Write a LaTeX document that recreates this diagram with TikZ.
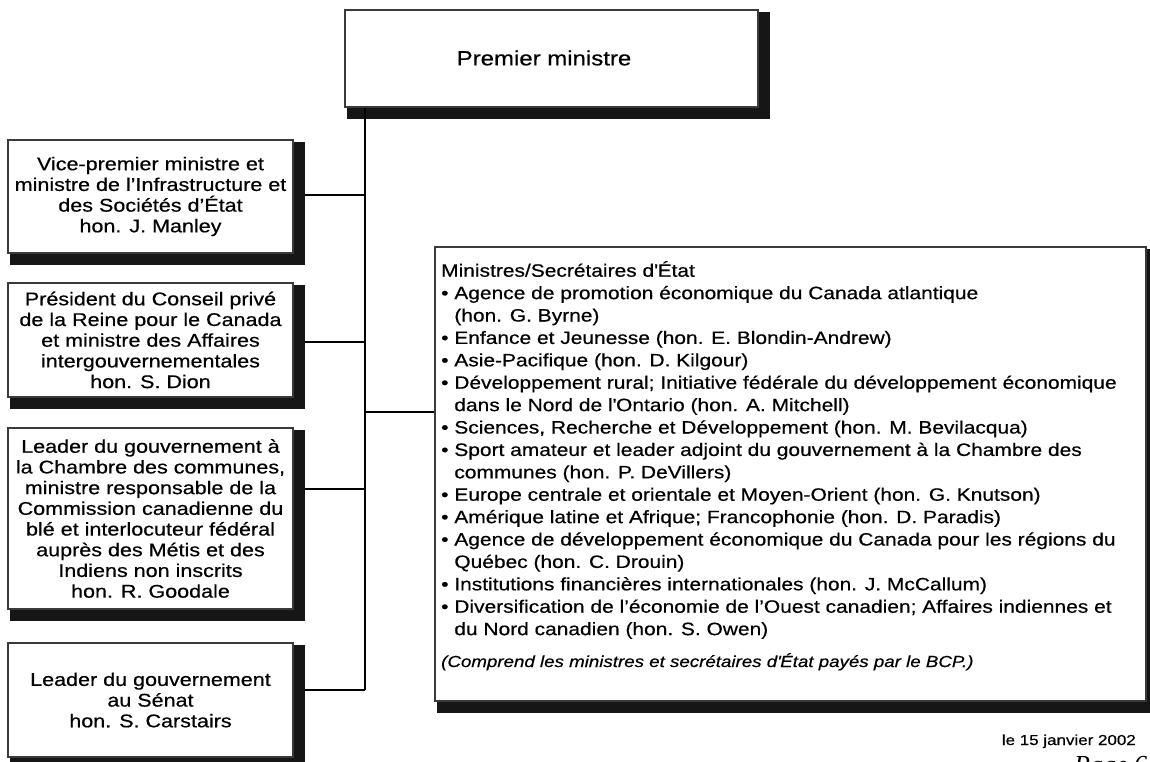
\documentclass[tikz,border=0pt]{standalone}
\usepackage{fontspec}
\setmainfont{Liberation Sans}[FakeStretch=1.17, FakeBold=0.5]
\newfontfamily\pagefont{Liberation Serif}
\usetikzlibrary{calc}
\definecolor{boxc}{HTML}{3A3A3A}
\definecolor{shadowc}{HTML}{161616}
\pgfdeclarelayer{bg}
\pgfsetlayers{bg,main}
\tikzset{
  box/.style={draw=boxc, line width=1.2pt, fill=white, inner sep=0pt, align=center},
  leftbox/.style={box, minimum width=285pt, font=\fontsize{18.4}{20.7}\selectfont},
  conn/.style={line width=2pt, draw=black},
  listtext/.style={inner sep=0pt, align=left, font=\fontsize{17.9}{22.4}\selectfont},
}
\newcommand{\ind}{\hphantom{\textbullet\ }}
\begin{document}
\begin{tikzpicture}[x=1pt,y=-1pt]
\useasboundingbox (0,0) rectangle (1150,761);
% boxes
\node[box, minimum width=413pt, minimum height=97pt] (pm) at (551.5,58.5) {};
\node[inner sep=0pt, font=\fontsize{20.5}{24}\selectfont] (pmt) at (544,58) {Premier ministre};
\node[leftbox, minimum height=113pt] (vp) at (150.5,196.5) {Vice-premier ministre et\\ministre de l’Infrastructure et\\des Sociétés d’État\\hon. J. Manley};
\node[leftbox, minimum height=114pt] (pc) at (150.5,340) {Président du Conseil privé\\de la Reine pour le Canada\\et ministre des Affaires\\intergouvernementales\\hon. S. Dion};
\node[leftbox, minimum height=181pt] (lc) at (150.5,518.5) {Leader du gouvernement à\\la Chambre des communes,\\ministre responsable de la\\Commission canadienne du\\blé et interlocuteur fédéral\\auprès des Métis et des\\Indiens non inscrits\\hon. R. Goodale};
\node[leftbox, minimum height=114pt] (ls) at (150.5,700) {Leader du gouvernement\\au Sénat\\hon. S. Carstairs};
\node[box, minimum width=711pt, minimum height=454pt] (mn) at (790.5,474) {};
% shadows
\begin{pgfonlayer}{bg}
\foreach \n in {pm,vp,pc,lc,ls,mn}
  \fill[shadowc] ($(\n.north west)+(3,3)$) rectangle ($(\n.south east)+(11,11)$);
\end{pgfonlayer}
% list text
\node[listtext, anchor=north west] (mtext) at (441,261) {Ministres/Secrétaires d\textquotesingle État\\
\textbullet\ Agence de promotion économique du Canada atlantique\\
\ind(hon. G. Byrne)\\
\textbullet\ Enfance et Jeunesse (hon. E. Blondin-Andrew)\\
\textbullet\ Asie-Pacifique (hon. D. Kilgour)\\
\textbullet\ Développement rural; Initiative fédérale du développement économique\\
\ind dans le Nord de l\textquotesingle Ontario (hon. A. Mitchell)\\
\textbullet\ Sciences, Recherche et Développement (hon. M. Bevilacqua)\\
\textbullet\ Sport amateur et leader adjoint du gouvernement à la Chambre des\\
\ind communes (hon. P. DeVillers)\\
\textbullet\ Europe centrale et orientale et Moyen-Orient (hon. G. Knutson)\\
\textbullet\ Amérique latine et Afrique; Francophonie (hon. D. Paradis)\\
\textbullet\ Agence de développement économique du Canada pour les régions du\\
\ind Québec (hon. C. Drouin)\\
\textbullet\ Institutions financières internationales (hon. J. McCallum)\\
\textbullet\ Diversification de l’économie de l’Ouest canadien; Affaires indiennes et\\
\ind du Nord canadien (hon. S. Owen)};
\node[listtext, anchor=base west, font=\fontsize{16}{20}\selectfont\itshape] (mnote) at (441,667) {(Comprend les ministres et secrétaires d\textquotesingle État payés par le BCP.)};
% date and page
\node[inner sep=0pt, anchor=base east, font=\fontsize{14.5}{17}\selectfont] (date) at (1136,745) {le 15 janvier 2002};
\node[inner sep=0pt, anchor=north west, font=\pagefont\itshape\fontsize{26}{30}\selectfont] (page) at (1074,756.5) {Page 6};
% connectors
\coordinate (t1) at (365,195);
\coordinate (t2) at (365,342);
\coordinate (t3) at (365,489);
\coordinate (t4) at (365,690);
\coordinate (t5) at (365,412);
\draw[conn] (pm.south -| t4) -- (t4);
\draw[conn] (t1) -- ($(vp.east |- t1)+(11,0)$);
\draw[conn] (t2) -- ($(pc.east |- t2)+(11,0)$);
\draw[conn] (t3) -- ($(lc.east |- t3)+(11,0)$);
\draw[conn] (t4) -- ($(ls.east |- t4)+(11,0)$);
\draw[conn] (t5) -- (mn.west |- t5);
\end{tikzpicture}
\end{document}
